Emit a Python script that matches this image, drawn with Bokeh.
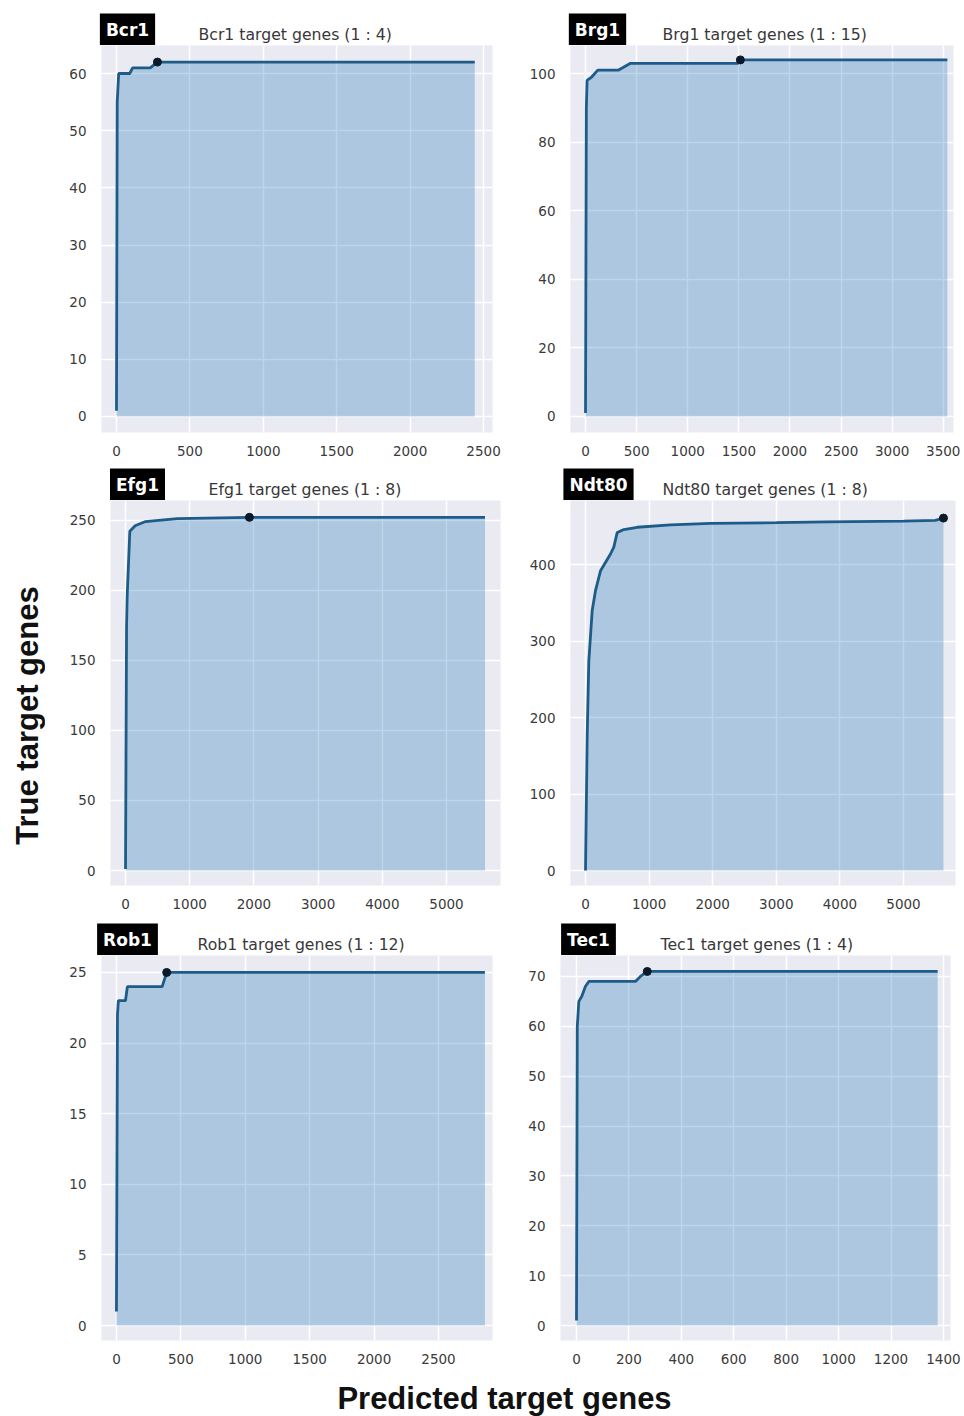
import math

from bokeh.plotting import figure
from bokeh.layouts import column, row
from bokeh.models import Range1d, FixedTicker, Label
from bokeh.embed import file_html
from bokeh.resources import INLINE

# ---- recovered true targets vs. number of predicted targets ----
bcr1_x = [0, 5, 15, 90, 110, 230, 279, 2440]
bcr1_y = [1, 55, 60, 60, 61, 61, 62, 62]
bcr1_dot = (279, 62)

brg1_x = [0, 8, 15, 60, 120, 320, 440, 1490, 1515, 3540]
brg1_y = [1, 90, 98, 99, 101, 101, 103, 103, 104, 104]
brg1_dot = (1515, 104)

efg1_x = [0, 16, 26, 67, 150, 311, 805, 1930, 5600]
efg1_y = [1, 174, 196, 242, 246, 249, 251, 252, 252]
efg1_dot = (1930, 252)

ndt80_x = [0, 27, 52, 105, 157, 236, 393, 445, 498, 602, 813, 1336, 1965,
           3000, 3800, 5000, 5500, 5629]
ndt80_y = [0, 179, 274, 340, 366, 392, 414, 423, 442, 446, 449, 452, 454,
           455, 456, 457, 458, 461]
ndt80_dot = (5629, 461)

rob1_x = [0, 8, 15, 70, 85, 355, 390, 2860]
rob1_y = [1, 22, 23, 23, 24, 24, 25, 25]
rob1_dot = (390, 25)

tec1_x = [0, 3, 9, 20, 34, 47, 225, 244, 270, 1378]
tec1_y = [1, 60, 65, 66, 68, 69, 69, 70, 71, 71]
tec1_dot = (270, 71)

# tick values
bcr1_xticks = [0, 500, 1000, 1500, 2000, 2500]
bcr1_yticks = [0, 10, 20, 30, 40, 50, 60]
brg1_xticks = [0, 500, 1000, 1500, 2000, 2500, 3000, 3500]
brg1_yticks = [0, 20, 40, 60, 80, 100]
efg1_xticks = [0, 1000, 2000, 3000, 4000, 5000]
efg1_yticks = [0, 50, 100, 150, 200, 250]
ndt80_xticks = [0, 1000, 2000, 3000, 4000, 5000]
ndt80_yticks = [0, 100, 200, 300, 400]
rob1_xticks = [0, 500, 1000, 1500, 2000, 2500]
rob1_yticks = [0, 5, 10, 15, 20, 25]
tec1_xticks = [0, 200, 400, 600, 800, 1000, 1200, 1400]
tec1_yticks = [0, 10, 20, 30, 40, 50, 60, 70]

# panel names and subtitles
names = ["Bcr1", "Brg1", "Efg1", "Ndt80", "Rob1", "Tec1"]
subtitles = ["Bcr1 target genes (1 : 4)", "Brg1 target genes (1 : 15)",
             "Efg1 target genes (1 : 8)", "Ndt80 target genes (1 : 8)",
             "Rob1 target genes (1 : 12)", "Tec1 target genes (1 : 4)"]

BG = "#EAEAF2"
FILL = "#1f77b4"
LINE = "#1d5b88"
TICK_FONT = "DejaVu Sans"
TICK_COLOR = "#3a3a3a"
STRIP_W = 45          # width of the left strip holding the y title
PAGE_W = 964


def make_panel(xs, ys, dot, xticks, yticks, xr, yr, fw, fh, bl, br, bb):
    p = figure(frame_width=fw, frame_height=fh,
               x_range=Range1d(*xr), y_range=Range1d(*yr),
               min_border_left=bl, min_border_right=br,
               min_border_top=0, min_border_bottom=bb,
               background_fill_color=BG, border_fill_color="white",
               outline_line_color=None, title=None,
               toolbar_location=None, output_backend="svg")
    p.xaxis.ticker = FixedTicker(ticks=xticks)
    p.yaxis.ticker = FixedTicker(ticks=yticks)
    for ax in (p.xaxis, p.yaxis):
        ax.axis_line_color = None
        ax.major_tick_line_color = None
        ax.minor_tick_line_color = None
        ax.major_tick_out = 0
        ax.major_tick_in = 0
        ax.major_label_text_font = TICK_FONT
        ax.major_label_text_font_size = "13.5px"
        ax.major_label_text_color = TICK_COLOR
    p.xaxis.major_label_standoff = 13
    p.yaxis.major_label_standoff = 15
    p.grid.grid_line_color = "white"
    p.grid.grid_line_width = 1.5

    p.varea(x=xs, y1=0, y2=ys, fill_color=FILL, fill_alpha=0.3)
    p.line(x=xs, y=ys, line_color=LINE, line_width=2.8)
    p.scatter(x=[dot[0]], y=[dot[1]], size=8, fill_color="#0b1a2a",
              line_color="#0b1a2a")
    return p


def make_header(height, items):
    """Strip above a row of panels: black name badge + subtitle per panel.
    items: (badge_center_px, subtitle_left_px, name, subtitle)."""
    h = figure(width=PAGE_W - STRIP_W, height=height,
               x_range=Range1d(STRIP_W, PAGE_W), y_range=Range1d(0, height),
               min_border=0, title=None, x_axis_location=None,
               y_axis_location=None, outline_line_color=None,
               background_fill_color="white", border_fill_color="white",
               toolbar_location=None, output_backend="svg")
    h.grid.visible = False
    for bx, sx, name, sub in items:
        h.add_layout(Label(x=bx, y=16, text=name,
                           text_font="DejaVu Sans", text_font_style="bold",
                           text_font_size="17px", text_color="white",
                           text_align="center", text_baseline="middle",
                           background_fill_color="black", padding=6))
        h.add_layout(Label(x=sx, y=11.5, text=sub,
                           text_font="DejaVu Sans", text_font_size="15.7px",
                           text_color="#383838", text_align="left",
                           text_baseline="middle"))
    return h


p1 = make_panel(bcr1_x, bcr1_y, bcr1_dot, bcr1_xticks, bcr1_yticks,
                (-102, 2561), (-2.8, 64.9), 391, 387, 101 - STRIP_W, 23, 30)
p2 = make_panel(brg1_x, brg1_y, brg1_dot, brg1_xticks, brg1_yticks,
                (-147, 3600), (-4.7, 108.2), 383, 387, 55, 11, 30)
p3 = make_panel(efg1_x, efg1_y, efg1_dot, efg1_xticks, efg1_yticks,
                (-234, 5841), (-10.7, 264), 390, 385, 110 - STRIP_W, 15, 32)
p4 = make_panel(ndt80_x, ndt80_y, ndt80_dot, ndt80_xticks, ndt80_yticks,
                (-236, 5818), (-19.6, 484), 385, 385, 55, 9, 32)
p5 = make_panel(rob1_x, rob1_y, rob1_dot, rob1_xticks, rob1_yticks,
                (-116, 2919), (-1.06, 26.2), 391, 385, 101 - STRIP_W, 23, 35)
p6 = make_panel(tec1_x, tec1_y, tec1_dot, tec1_xticks, tec1_yticks,
                (-61, 1427), (-3, 74.2), 390, 385, 45, 14, 35)

h1 = make_header(45, [(127, 198, names[0], subtitles[0]),
                      (597, 662, names[1], subtitles[1])])
h2 = make_header(38, [(137, 208, names[2], subtitles[2]),
                      (598, 662, names[3], subtitles[3])])
h3 = make_header(38, [(127, 197, names[4], subtitles[4]),
                      (588, 660, names[5], subtitles[5])])

grid_block = column(h1, row(p1, p2), h2, row(p3, p4), h3, row(p5, p6))
BLOCK_H = 45 + 417 + 38 + 417 + 38 + 420

# shared y title on the left
strip = figure(width=STRIP_W, height=BLOCK_H, x_range=Range1d(0, STRIP_W),
               y_range=Range1d(0, BLOCK_H), min_border=0, title=None,
               x_axis_location=None, y_axis_location=None,
               outline_line_color=None, background_fill_color="white",
               border_fill_color="white", toolbar_location=None,
               output_backend="svg")
strip.grid.visible = False
strip.add_layout(Label(x=27, y=BLOCK_H - 715, text="True target genes",
                       angle=math.pi / 2, text_font="Liberation Sans",
                       text_font_style="bold", text_font_size="31px",
                       text_color="#111111", text_align="center",
                       text_baseline="middle"))

# shared x title along the bottom
foot = figure(width=PAGE_W, height=41, x_range=Range1d(0, PAGE_W),
              y_range=Range1d(0, 41), min_border=0, title=None,
              x_axis_location=None, y_axis_location=None,
              outline_line_color=None, background_fill_color="white",
              border_fill_color="white", toolbar_location=None,
              output_backend="svg")
foot.grid.visible = False
foot.add_layout(Label(x=504, y=18, text="Predicted target genes",
                      text_font="Liberation Sans", text_font_style="bold",
                      text_font_size="31px", text_color="#111111",
                      text_align="center", text_baseline="middle"))

layout = column(row(strip, grid_block), foot)

with open("out.html", "w") as f:
    f.write(file_html(layout, INLINE))
